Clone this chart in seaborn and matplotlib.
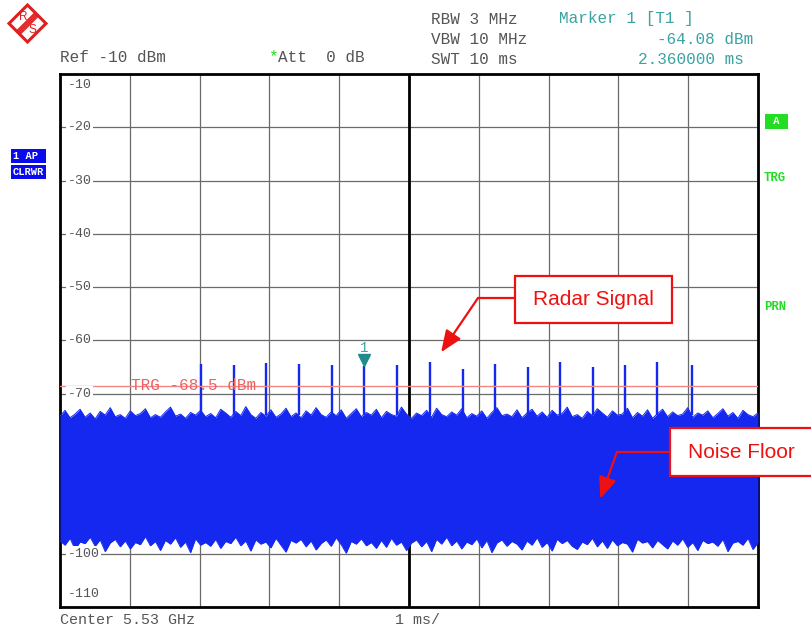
import matplotlib
matplotlib.use("Agg")
import matplotlib.pyplot as plt
import numpy as np
import pandas as pd
import seaborn as sns
from matplotlib.patches import Rectangle, Polygon

# --- data ------------------------------------------------------------------
y_levels = [-10, -20, -30, -40, -50, -60, -70, -80, -90, -100, -110]
y_labels = ["-10", "-20", "-30", "-40", "-50", "-60", "-70", "", "", "-100", "-110"]

# radar pulses: time (ms) and peak level (dBm)
pulse_times = [2.02, 2.49, 2.95, 3.43, 3.90, 4.36, 4.83, 5.30,
               5.77, 6.23, 6.71, 7.17, 7.64, 8.10, 8.56, 9.05]
pulse_peaks = [-64.4, -64.6, -64.2, -64.4, -64.6, -64.8, -64.6, -64.1,
               -65.4, -64.4, -65.0, -64.1, -65.0, -64.6, -64.1, -64.6]

# noise floor envelope (dBm), upper and lower edge of the trace
noise_upper = [
    -74.2, -73.1, -74.5, -73.8, -72.9, -74.4, -73.6, -74.7, -73.3, -74.0,
    -72.6, -74.3, -73.9, -74.6, -73.2, -74.1, -73.7, -72.8, -74.5, -73.9,
    -74.4, -73.4, -72.5, -74.2, -73.8, -74.6, -73.5, -74.0, -73.1, -74.3,
    -73.7, -74.5, -72.9, -73.6, -74.4, -73.3, -74.1, -72.4, -73.9, -74.6,
    -73.5, -74.2, -73.0, -74.4, -73.8, -72.7, -74.3, -73.6, -74.5, -73.2,
    -74.0, -72.6, -73.9, -74.4, -73.4, -74.1, -73.0, -74.6, -73.7, -72.8,
    -74.3, -73.5, -74.0, -72.9, -74.5, -73.3, -73.9, -74.2, -72.5, -73.8,
    -74.6, -73.6, -74.1, -73.1, -74.4, -72.7, -73.9, -74.3, -73.4, -74.0,
    -72.8, -74.5, -73.7, -74.2, -73.2, -74.6, -73.5, -72.6, -74.1, -73.8,
    -74.3, -73.0, -74.5, -73.6, -72.9, -74.2, -73.4, -74.4, -73.1, -74.0,
    -73.7, -72.5, -74.3, -73.9, -74.6, -73.3, -74.1, -72.8, -73.6, -74.4,
    -73.2, -74.0, -73.8, -72.7, -74.5, -73.5, -74.2, -73.0, -74.6, -73.7,
    -72.9, -74.3, -73.4, -74.1, -73.8, -72.6, -74.4, -73.6, -74.0, -73.2,
    -74.5, -73.7, -72.8, -74.2, -73.5, -74.6, -73.1, -73.9, -74.3, -73.6,
]
noise_lower = [
    -97.6, -98.4, -97.1, -99.2, -97.8, -98.1, -96.9, -98.6, -97.4, -99.6,
    -98.0, -97.3, -98.7, -97.6, -99.1, -97.9, -98.3, -96.8, -98.5, -97.7,
    -99.4, -97.5, -98.2, -97.0, -98.8, -97.8, -99.8, -97.2, -98.4, -97.9,
    -98.6, -97.3, -99.0, -97.7, -98.1, -96.9, -98.5, -97.6, -99.5, -97.4,
    -98.2, -97.8, -98.9, -97.1, -98.4, -99.7, -97.5, -98.0, -97.3, -98.7,
    -97.6, -99.3, -98.1, -97.4, -98.6, -97.0, -98.3, -99.9, -97.7, -98.2,
    -97.2, -98.5, -97.9, -99.0, -97.5, -98.8, -97.1, -98.4, -97.8, -99.4,
    -98.0, -97.4, -98.7, -97.7, -99.6, -97.3, -98.2, -96.9, -98.5, -97.6,
    -99.1, -97.8, -98.3, -97.2, -98.9, -97.5, -99.8, -98.0, -97.4, -98.6,
    -97.7, -98.2, -99.3, -97.6, -98.4, -97.0, -98.8, -97.9, -99.5, -97.3,
    -98.1, -97.5, -98.6, -99.2, -97.8, -98.3, -97.1, -98.7, -97.6, -99.0,
    -97.4, -98.5, -97.9, -98.2, -99.7, -97.3, -98.0, -97.7, -98.9, -97.5,
    -98.3, -99.1, -97.6, -98.4, -97.2, -98.8, -97.9, -99.4, -97.5, -98.1,
    -97.8, -98.6, -97.3, -99.6, -98.0, -97.7, -98.4, -97.1, -99.2, -97.9,
]

trigger_level = -68.5
marker_pulse = 5  # index of the pulse carrying marker 1

# --- style ------------------------------------------------------------------
sns.set_theme(style="white")
plt.rcParams["font.family"] = ["Liberation Mono", "DejaVu Sans Mono"]

TRACE = "#1428f0"
GRAY_TXT = "#555555"
TEAL = "#3aa3a3"
GREEN = "#22dd22"
RED = "#ee1111"

W, H = 811, 632
fig = plt.figure(figsize=(W / 100, H / 100), dpi=100)
ax = fig.add_axes([60 / W, 1 - 607 / H, 698 / W, 533 / H])
ax.set_xlim(0, 10)
ax.set_ylim(-110, -10)

# grid
ax.set_xticks(np.arange(0, 11))
ax.set_yticks(y_levels)
ax.set_xticklabels([])
ax.set_yticklabels([])
ax.tick_params(length=0)
ax.grid(True, color="#6a6a6a", lw=0.9)
ax.axvline(5, color="black", lw=2, zorder=1)
for s in ax.spines.values():
    s.set_color("black")
    s.set_linewidth(2)
    s.set_visible(True)

# noise floor
t = np.linspace(0, 10, len(noise_upper))
noise = pd.DataFrame({"t": t, "upper": noise_upper, "lower": noise_lower})
ax.fill_between(noise["t"], noise["lower"], noise["upper"],
                color=TRACE, lw=0, zorder=3)
sns.lineplot(data=noise, x="t", y="upper", ax=ax, color=TRACE, lw=0.7, zorder=3)
sns.lineplot(data=noise, x="t", y="lower", ax=ax, color=TRACE, lw=0.7, zorder=3)
ax.set_xlabel("")
ax.set_ylabel("")

# radar pulses
ax.vlines(pulse_times, -74, pulse_peaks, color=TRACE, lw=1.7, zorder=4)

# trigger line
ax.axhline(trigger_level, color="#f08888", lw=1, zorder=5)
ax.text(1.02, trigger_level, "TRG -68.5 dBm", color="#f06060", fontsize=11.5,
        va="center", ha="left", zorder=6)

# marker 1
mx, my = pulse_times[marker_pulse], pulse_peaks[marker_pulse]
ax.plot(mx, my + 1.2, marker="v", ms=8, color="#1e8c8c", zorder=7, clip_on=False)
ax.text(mx, my + 3.3, "1", color=TEAL, fontsize=10, ha="center", va="center", zorder=7)

# y labels, inside the grid
for lv, lb in zip(y_levels, y_labels):
    if not lb:
        continue
    yy = lv
    if lv == -10:
        yy = -12.1
    elif lv == -110:
        yy = -107.6
    ax.text(0.11, yy, lb, color=GRAY_TXT, fontsize=9.5, ha="left", va="center",
            zorder=8, bbox=dict(facecolor="white", edgecolor="none", pad=1.0))

# annotation boxes
ax.add_patch(Rectangle((6.52, -56.7), 2.25, 8.8, fc="white", ec=RED, lw=1.6,
                       zorder=9, clip_on=False))
ax.text(7.645, -52.3, "Radar Signal", color=RED, fontsize=15, ha="center",
        va="center", family="Liberation Sans", zorder=10)
ax.plot([6.52, 5.99], [-52.0, -52.0], color=RED, lw=1.6, zorder=9)
ax.annotate("", xy=(5.46, -62.2), xytext=(5.99, -52.0),
            arrowprops=dict(arrowstyle="-|>,head_length=1.1,head_width=0.45",
                            color=RED, lw=1.6, shrinkA=0, shrinkB=0), zorder=9)

ax.add_patch(Rectangle((8.74, -85.4), 2.1, 9.0, fc="white", ec=RED, lw=1.6,
                       zorder=9, clip_on=False))
ax.text(9.76, -81.0, "Noise Floor", color=RED, fontsize=15, ha="center",
        va="center", family="Liberation Sans", zorder=10, clip_on=False)
ax.plot([8.74, 7.98], [-80.9, -80.9], color=RED, lw=1.6, zorder=9)
ax.annotate("", xy=(7.74, -89.7), xytext=(7.98, -80.9),
            arrowprops=dict(arrowstyle="-|>,head_length=1.1,head_width=0.45",
                            color=RED, lw=1.6, shrinkA=0, shrinkB=0), zorder=9)

# header text (figure pixel coordinates)
def ftext(x, y, s, **kw):
    fig.text(x / W, 1 - y / H, s, **kw)

hdr = dict(fontsize=11.5, color=GRAY_TXT, va="center", ha="left")
ftext(60, 58, "Ref -10 dBm", **hdr)
ftext(268, 57, "*", fontsize=11.5, color=GREEN, va="center", ha="left")
ftext(278, 58, "Att  0 dB", **hdr)
ftext(431, 19, "RBW 3 MHz", **hdr)
ftext(431, 39, "VBW 10 MHz", **hdr)
ftext(431, 59, "SWT 10 ms", **hdr)
ftext(559, 19, "Marker 1 [T1 ]", fontsize=11.5, color=TEAL, va="center", ha="left")
ftext(657, 39, "-64.08 dBm", fontsize=11.5, color=TEAL, va="center", ha="left")
ftext(638, 59, "2.360000 ms", fontsize=11.5, color=TEAL, va="center", ha="left")
ftext(60, 620, "Center 5.53 GHz", fontsize=10.8, color=GRAY_TXT, va="center", ha="left")
ftext(395, 620, "1 ms/", fontsize=10.8, color=GRAY_TXT, va="center", ha="left")

# side status labels
side = dict(fontsize=7.5, fontweight="bold", va="center", ha="left")
ftext(13, 156, "1 AP ", color="white",
      bbox=dict(facecolor="#0a0aee", edgecolor="none", pad=1.2), **side)
ftext(13, 172, "CLRWR", color="white",
      bbox=dict(facecolor="#0a0aee", edgecolor="none", pad=1.2), **side)
ftext(767, 121, " A ", color="white",
      bbox=dict(facecolor=GREEN, edgecolor="none", pad=1.8), **side)
side_big = dict(fontsize=8.8, fontweight="bold", va="center", ha="left", color=GREEN)
ftext(764, 178, "TRG", **side_big)
ftext(764, 307, "PRN", **side_big)

# R&S logo
lax = fig.add_axes([0, 1 - 50 / H, 55 / W, 50 / H])
lax.set_xlim(0, 55)
lax.set_ylim(50, 0)
lax.axis("off")
lax.add_patch(Polygon([(27.5, 5), (46, 23.5), (27.5, 42), (9, 23.5)],
                      closed=True, fill=False, ec="#e02020", lw=2.2))
for off in (-2.4, -1.2, 0.0, 1.2, 2.4):
    lax.plot([36.75 + off * 0.7, 18.25 + off * 0.7],
             [14.25 + off * 0.7, 32.75 + off * 0.7], color="#e02020", lw=1.0)
lax.text(23.5, 17.5, "R", color="#e02020", fontsize=8.5, ha="center", va="center",
         family="Liberation Sans")
lax.text(32.0, 30.0, "S", color="#e02020", fontsize=8.5, ha="center", va="center",
         family="Liberation Sans")

fig.savefig("out.png", dpi=100)
